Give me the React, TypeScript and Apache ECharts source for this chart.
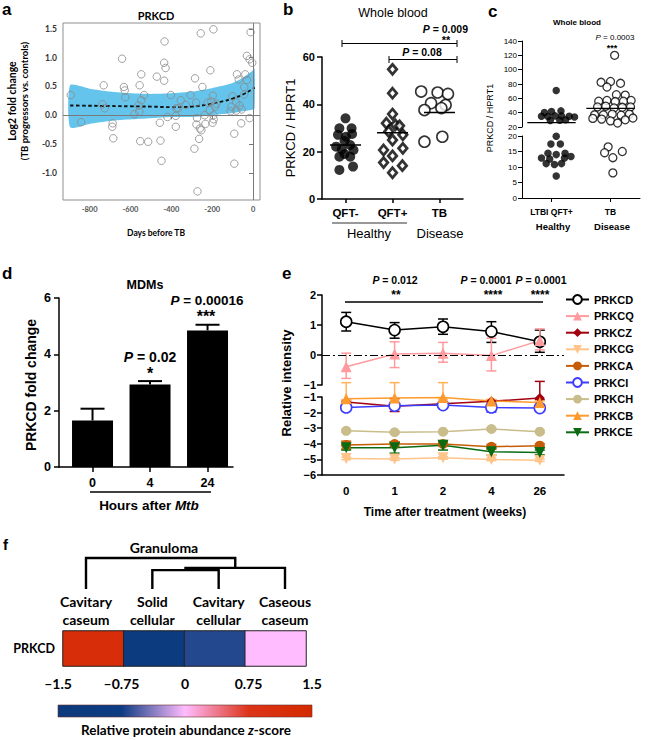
import React, { useEffect, useRef } from 'react';
import * as echarts from 'echarts';

const ARIAL = 'Liberation Sans';
const CALI = 'Lato';

// ---------------- Panel a : PRKCD log2 fold change vs days before TB ----------------
const aPoints: number[][] = [
  [-892, 0.35], [-841, -0.12], [-731, 0.52], [-737, 0.19], [-726, 0.12], [-687, -0.14], [-689, -0.2], [-684, -0.4],
  [-641, 0.98], [-632, 0.49], [-628, 0.43], [-625, 0.31], [-580, 0.02], [-557, 0.06], [-555, 0.52], [-547, 0.71],
  [-547, 0.26], [-560, 0.17], [-533, 0.35], [-552, -0.45], [-513, -0.46], [-471, 0.67], [-433, 1.28], [-435, 0.91],
  [-428, 0.82], [-435, 0.6], [-456, -0.13], [-453, -0.44], [-448, -0.79], [-419, -0.03], [-402, 0.35], [-375, 0.12],
  [-378, -0.01], [-378, -0.2], [-367, 0.12], [-354, 0.26], [-329, 0.18], [-306, 0.35], [-284, 0.64], [-279, 0.22],
  [-248, 0.49], [-256, 1.42], [-194, 1.49], [-209, 0.78], [-197, 0.34], [-274, -0.05], [-277, -0.16], [-264, -0.41],
  [-287, -0.58], [-272, -1.32], [-260, -0.23], [-253, -0.26], [-237, 0.0], [-233, -0.15], [-222, 0.22], [-212, 0.09],
  [-204, 0.24], [-194, 0.0], [-193, -0.07], [-198, -0.13], [-186, 0.15], [-180, 0.2],
  [-12, 1.44], [-30, 1.03], [-17, 0.97], [-4, 0.91], [-79, 0.71], [-38, 0.71], [-30, 0.61], [-70, 0.62], [-43, 0.49],
  [-101, 0.33], [-43, 0.36], [-82, 0.22], [-66, 0.17], [-106, 0.15], [-110, 0.07], [-82, 0.08], [-56, 0.1],
  [-17, -0.05], [-58, -0.14], [-92, -0.32], [-92, -0.84],
];
const aBandDays = [-895, -800, -700, -600, -500, -400, -300, -200, -150, -100, -50, 0, 8];
const aBandUpper = [0.52, 0.46, 0.41, 0.38, 0.37, 0.38, 0.41, 0.47, 0.51, 0.56, 0.65, 0.78, 0.81];
const aBandLower = [-0.21, -0.15, -0.1, -0.07, -0.05, -0.03, -0.03, 0.0, 0.02, 0.04, 0.07, 0.1, 0.12];
const aFit = [0.17, 0.165, 0.16, 0.155, 0.15, 0.14, 0.15, 0.2, 0.24, 0.29, 0.36, 0.46, 0.48];
const aDayTicks = [-800, -600, -400, -200, 0];
const aFcTicks = [-1, -0.5, 0, 0.5, 1, 1.5];

// ---------------- Panel b : whole blood ----------------
const bCats = ['QFT-', 'QFT+', 'TB'];
const bQftNeg: number[][] = [
  [0.0, 34.1], [0.13, 29.9], [-0.13, 29.9], [0.14, 27.5], [-0.16, 27.1], [0.01, 26.3], [-0.02, 24.5], [-0.2, 22.1],
  [0.1, 22.8], [-0.08, 21.0], [0.17, 20.7], [-0.02, 19.0], [-0.13, 17.9], [0.1, 17.9], [-0.13, 12.3], [0.16, 13.7],
];
const bQftPos: number[][] = [
  [0.0, 54.8], [0.0, 44.7], [0.0, 35.9], [-0.13, 32.0], [0.06, 31.3], [0.15, 30.9], [-0.08, 28.5], [0.22, 27.1],
  [0.0, 24.9], [-0.19, 20.7], [0.22, 21.4], [0.0, 18.2], [-0.19, 15.4], [0.21, 14.1], [0.0, 11.1],
];
const bTB: number[][] = [
  [-0.39, 45.4], [-0.04, 45.0], [0.18, 44.4], [-0.18, 40.5], [0.13, 39.7], [-0.32, 37.6], [0.04, 38.4],
  [-0.32, 24.2], [0.06, 26.3],
];
const bMeans = [22.8, 28.0, 36.5];

// ---------------- Panel c : whole blood (broken axis) ----------------
const cCats = ['LTBI QFT+', 'TB'];
const cLtbi: number[][] = [
  [0.08, 71], [-0.12, 40.1], [0.0, 41.5], [0.16, 42.5], [-0.17, 35], [-0.06, 34.5], [0.06, 35.5], [0.17, 35.5],
  [0.3, 35], [0.39, 34], [-0.02, 29], [0.14, 29.5], [0.24, 30],
  [0.08, 19.9], [-0.01, 17.4], [0.15, 17.4], [-0.06, 14.4], [0.08, 14], [0.23, 14.4], [-0.17, 12.9], [-0.03, 12.6],
  [0.22, 12.9], [0.33, 13.4], [-0.09, 11.1], [0.05, 10.8], [0.17, 11.1], [0.08, 7.1],
];
const cTB: number[][] = [
  [0.07, 120], [-0.16, 82.4], [0.0, 83.5], [0.17, 81], [-0.06, 75.8], [0.1, 65], [0.25, 64.5],
  [-0.2, 56], [-0.06, 57], [0.08, 55.5], [0.22, 56], [0.35, 57],
  [-0.22, 48], [-0.08, 49], [0.06, 46.5], [0.2, 47.5], [0.34, 48],
  [-0.27, 37], [-0.12, 37], [0.03, 38], [0.18, 36.5], [0.32, 38],
  [-0.3, 32], [-0.15, 31], [0.0, 28.5], [0.12, 25.5], [0.25, 30], [0.38, 32.5],
  [-0.04, 16.5], [-0.1, 14.6], [0.2, 15], [0.04, 13], [0.04, 8.1],
];
const cMeans = [26, 46];

// ---------------- Panel d : MDMs ----------------
const dCats = ['0', '4', '24'];
const dMeans = [1.65, 2.93, 4.85];
const dErr = [0.42, 0.12, 0.2];

// ---------------- Panel e : relative intensity ----------------
const eWeeks = ['0', '1', '2', '4', '26'];
const eNames = ['PRKCD', 'PRKCQ', 'PRKCZ', 'PRKCG', 'PRKCA', 'PRKCI', 'PRKCH', 'PRKCB', 'PRKCE'];
const eValues: Record<string, number[]> = {
  PRKCD: [1.11, 0.83, 0.94, 0.78, 0.44],
  PRKCQ: [-0.39, 0.03, 0.06, -0.02, 0.48],
  PRKCZ: [-1.32, -1.6, -1.43, -1.28, -1.07],
  PRKCG: [-4.94, -4.98, -4.9, -5.0, -5.05],
  PRKCA: [-4.08, -4.02, -4.01, -4.19, -4.12],
  PRKCI: [-1.67, -1.56, -1.52, -1.67, -1.71],
  PRKCH: [-3.17, -3.26, -3.22, -3.05, -3.22],
  PRKCB: [-1.11, -1.07, -1.03, -1.25, -1.36],
  PRKCE: [-4.25, -4.25, -4.1, -4.51, -4.55],
};
const eErrUp: Record<string, number[]> = {
  PRKCD: [0.31, 0.25, 0.26, 0.33, 0.39],
  PRKCQ: [0.45, 0.41, 0.36, 0.58, 0.39],
  PRKCZ: [0.1, 0.5, 0.12, 0.1, 1.07],
  PRKCG: [0.08, 0.08, 0.08, 0.08, 0.08],
  PRKCA: [0.25, 0.15, 0.12, 0.15, 0.12],
  PRKCI: [0.1, 0.1, 0.12, 0.1, 0.1],
  PRKCH: [0.08, 0.08, 0.08, 0.08, 0.08],
  PRKCB: [1.03, 0.99, 0.95, 0.1, 0.1],
  PRKCE: [0.15, 0.35, 0.3, 0.2, 0.15],
};
const eErrDown: Record<string, number[]> = {
  PRKCD: [0.31, 0.27, 0.25, 0.36, 0.35],
  PRKCQ: [0.39, 0.45, 0.3, 0.51, 0.31],
  PRKCZ: [0.1, 0.33, 0.12, 0.1, 0.1],
  PRKCG: [0.08, 0.08, 0.08, 0.08, 0.08],
  PRKCA: [0.25, 0.15, 0.12, 0.15, 0.12],
  PRKCI: [0.1, 0.1, 0.15, 0.3, 0.1],
  PRKCH: [0.08, 0.08, 0.08, 0.08, 0.08],
  PRKCB: [0.1, 0.1, 0.1, 0.1, 0.1],
  PRKCE: [0.15, 0.35, 0.3, 0.2, 0.15],
};
const eUpperGroup = ['PRKCD', 'PRKCQ'];

// ---------------- Panel f : granuloma heatmap ----------------
const fSamples = ['Cavitary\ncaseum', 'Solid\ncellular', 'Cavitary\ncellular', 'Caseous\ncaseum'];
const fRow = ['PRKCD'];
const fZ = [1.25, -1.0, -0.68, 0.0];
// dendrogram merges: [xLeft, hLeft, xRight, hRight, hJoin]
const fMerges: number[][] = [
  [1, 0, 2, 0, 0.61],
  [1.5, 0.61, 3, 0, 0.68],
  [0, 0, 2.25, 0.68, 1.0],
];
const fScaleTicks = [-1.5, -0.75, 0, 0.75, 1.5];
const fColors = ['#0b3a7c', '#0c3c82', '#ffbcff', '#dc3418', '#d42a00'];

// ---------------- helpers ----------------
function txt(x: number, y: number, text: string, size: number, o: any = {}) {
  const base: any = {
    fontSize: size,
    fontWeight: o.weight ?? 'bold',
    fontFamily: o.family ?? ARIAL,
    fill: o.color ?? '#000',
  };
  return {
    type: 'text',
    x,
    y,
    rotation: o.rot ?? 0,
    silent: true,
    z: 100,
    style: {
      ...base,
      text,
      align: o.align ?? 'center',
      verticalAlign: 'middle',
      rich: { i: { ...base, fontStyle: 'italic' } },
    },
  };
}
function seg(x1: number, y1: number, x2: number, y2: number, w = 1.5, color = '#000') {
  return { type: 'line', silent: true, z: 100, shape: { x1, y1, x2, y2 }, style: { stroke: color, lineWidth: w } };
}
const minus = (s: string) => s.replace('-', '\u2212');

function buildOption() {
  const grids: any[] = [];
  const xAxes: any[] = [];
  const yAxes: any[] = [];
  const series: any[] = [];
  const noSplit = { show: false };
  const blackLine = (w = 1.5) => ({ show: true, onZero: false, lineStyle: { color: '#000', width: w } });

  // ===== grid 0 : panel a =====
  grids.push({ left: 63, top: 23, width: 197, height: 177, show: true, borderColor: '#8f8f8f', borderWidth: 1 });
  xAxes.push({
    gridIndex: 0, type: 'value', min: -930, max: 34,
    axisLine: { show: false }, splitLine: noSplit,
    axisTick: { show: true, customValues: aDayTicks, length: 4, lineStyle: { color: '#777' } },
    axisLabel: { customValues: aDayTicks, fontSize: 7.5, fontWeight: 'bold', color: '#555', margin: 5, fontFamily: CALI },
  });
  yAxes.push({
    gridIndex: 0, type: 'value', min: -1.47, max: 1.6,
    axisLine: { show: false }, splitLine: noSplit,
    axisTick: { show: true, customValues: aFcTicks, length: 4, lineStyle: { color: '#777' } },
    axisLabel: {
      customValues: aFcTicks, fontSize: 8.5, fontWeight: 'bold', color: '#333', margin: 6, fontFamily: CALI,
      formatter: (v: number) => v.toFixed(1),
    },
  });
  series.push({
    type: 'custom', xAxisIndex: 0, yAxisIndex: 0, silent: true, z: 1,
    data: [[aBandDays[0], aBandLower[0]]],
    renderItem: (_p: any, api: any) => {
      const pts = aBandDays.map((d, i) => api.coord([d, aBandUpper[i]]));
      for (let i = aBandDays.length - 1; i >= 0; i--) pts.push(api.coord([aBandDays[i], aBandLower[i]]));
      return { type: 'polygon', shape: { points: pts, smooth: 0.2 }, style: { fill: '#64c4ec', stroke: null } };
    },
  });
  series.push({
    type: 'line', xAxisIndex: 0, yAxisIndex: 0, z: 3, smooth: 0.4, symbol: 'none', silent: true,
    data: aBandDays.map((d, i) => [d, aFit[i]]),
    lineStyle: { color: '#111', width: 1.9, type: [3.5, 2.5] },
    markLine: {
      silent: true, symbol: 'none', label: { show: false },
      lineStyle: { color: '#7a7a7a', width: 1, type: 'solid' },
      data: [{ yAxis: 0 }, { xAxis: 0 }],
    },
  });
  series.push({
    type: 'scatter', xAxisIndex: 0, yAxisIndex: 0, z: 4, symbol: 'circle', symbolSize: 7.5, silent: true,
    data: aPoints,
    itemStyle: { color: 'rgba(0,0,0,0)', borderColor: '#8a8a8a', borderWidth: 1 },
  });

  // ===== grid 1 : panel b =====
  grids.push({ left: 322, top: 57, width: 141, height: 142 });
  xAxes.push({
    gridIndex: 1, type: 'value', min: -0.5, max: 2.5, axisLine: blackLine(1.5), splitLine: noSplit,
    axisTick: { show: true, customValues: [0, 1, 2], length: 4, lineStyle: { color: '#000', width: 1.5 } },
    axisLabel: {
      customValues: [0, 1, 2], formatter: (v: number) => bCats[Math.round(v)],
      fontSize: 11.5, fontWeight: 'bold', color: '#000', margin: 8, fontFamily: ARIAL,
    },
  });
  yAxes.push({
    gridIndex: 1, type: 'value', min: 0, max: 60, interval: 20, axisLine: blackLine(1.5), splitLine: noSplit,
    axisTick: { show: true, length: 5, lineStyle: { color: '#000', width: 1.5 } },
    axisLabel: { fontSize: 11, fontWeight: 'bold', color: '#000', margin: 7, fontFamily: ARIAL },
  });
  series.push({
    type: 'scatter', xAxisIndex: 1, yAxisIndex: 1, z: 4, symbol: 'circle', symbolSize: 10, silent: true,
    data: bQftNeg.map(([dx, v]) => [0 + dx, v]), itemStyle: { color: '#000' },
  });
  series.push({
    type: 'scatter', xAxisIndex: 1, yAxisIndex: 1, z: 4, symbol: 'diamond', symbolSize: [8.5, 10], silent: true,
    data: bQftPos.map(([dx, v]) => [1 + dx, v]), itemStyle: { color: '#fff', borderColor: '#000', borderWidth: 2.8 },
  });
  series.push({
    type: 'scatter', xAxisIndex: 1, yAxisIndex: 1, z: 4, symbol: 'circle', symbolSize: 11, silent: true,
    data: bTB.map(([dx, v]) => [2 + dx, v]), itemStyle: { color: '#fff', borderColor: '#000', borderWidth: 1.6 },
  });
  series.push({
    type: 'custom', xAxisIndex: 1, yAxisIndex: 1, z: 5, silent: true,
    data: bMeans.map((m, i) => [i, m]),
    renderItem: (_p: any, api: any) => {
      const a = api.coord([api.value(0) - 0.33, api.value(1)]);
      const b = api.coord([api.value(0) + 0.33, api.value(1)]);
      return { type: 'line', shape: { x1: a[0], y1: a[1], x2: b[0], y2: b[1] }, style: { stroke: '#000', lineWidth: 1.5 } };
    },
  });

  // ===== grid 2/3 : panel c =====
  grids.push({ left: 522, top: 41, width: 118, height: 86 });
  grids.push({ left: 522, top: 136, width: 118, height: 62 });
  xAxes.push({ gridIndex: 2, type: 'value', min: -0.5, max: 1.5, show: false });
  xAxes.push({
    gridIndex: 3, type: 'value', min: -0.5, max: 1.5, axisLine: blackLine(1), splitLine: noSplit,
    axisTick: { show: true, customValues: [0, 1], length: 4, lineStyle: { color: '#000' } },
    axisLabel: {
      customValues: [0, 1], formatter: (v: number) => cCats[Math.round(v)],
      fontSize: 8.5, fontWeight: 'bold', color: '#000', margin: 9, fontFamily: ARIAL,
    },
  });
  const cY = (gi: number, min: number, max: number, interval: number) => ({
    gridIndex: gi, type: 'value', min, max, interval, axisLine: blackLine(1), splitLine: noSplit,
    axisTick: { show: true, length: 4, lineStyle: { color: '#000' } },
    axisLabel: { fontSize: 8, color: '#000', margin: 5, fontFamily: ARIAL },
  });
  yAxes.push(cY(2, 20, 140, 20));
  yAxes.push(cY(3, 0, 20, 5));
  const cGroups = [
    { pts: cLtbi, center: 0, style: { color: '#000' }, size: 7.5 },
    { pts: cTB, center: 1, style: { color: '#fff', borderColor: '#000', borderWidth: 1.3 }, size: 8 },
  ];
  cGroups.forEach((g) => {
    const upper = g.pts.filter((p) => p[1] >= 20).map(([dx, v]) => [g.center + dx, v]);
    const lower = g.pts.filter((p) => p[1] < 20).map(([dx, v]) => [g.center + dx, v]);
    series.push({
      type: 'scatter', xAxisIndex: 2, yAxisIndex: 2, z: 4, symbol: 'circle', symbolSize: g.size, silent: true,
      data: upper, itemStyle: g.style,
    });
    series.push({
      type: 'scatter', xAxisIndex: 3, yAxisIndex: 3, z: 4, symbol: 'circle', symbolSize: g.size, silent: true,
      data: lower, itemStyle: g.style,
    });
  });
  series.push({
    type: 'custom', xAxisIndex: 2, yAxisIndex: 2, z: 5, silent: true,
    data: cMeans.map((m, i) => [i, m]),
    renderItem: (_p: any, api: any) => {
      const a = api.coord([api.value(0) - 0.41, api.value(1)]);
      const b = api.coord([api.value(0) + 0.41, api.value(1)]);
      return { type: 'line', shape: { x1: a[0], y1: a[1], x2: b[0], y2: b[1] }, style: { stroke: '#000', lineWidth: 1.2 } };
    },
  });

  // ===== grid 4 : panel d =====
  grids.push({ left: 59, top: 298, width: 174, height: 169 });
  xAxes.push({
    gridIndex: 4, type: 'value', min: -0.583, max: 2.443, axisLine: blackLine(1.5), splitLine: noSplit,
    axisTick: { show: true, customValues: [0, 1, 2], length: 5, lineStyle: { color: '#000', width: 1.5 } },
    axisLabel: {
      customValues: [0, 1, 2], formatter: (v: number) => dCats[Math.round(v)],
      fontSize: 12.5, fontWeight: 'bold', color: '#000', margin: 9, fontFamily: ARIAL,
    },
  });
  yAxes.push({
    gridIndex: 4, type: 'value', min: 0, max: 6, interval: 2, axisLine: blackLine(1.5), splitLine: noSplit,
    axisTick: { show: true, length: 5, lineStyle: { color: '#000', width: 1.5 } },
    axisLabel: { fontSize: 12.5, fontWeight: 'bold', color: '#000', margin: 8, fontFamily: ARIAL },
  });
  series.push({
    type: 'custom', xAxisIndex: 4, yAxisIndex: 4, z: 2, silent: true,
    data: dMeans.map((m, i) => [i, m, dErr[i]]),
    renderItem: (_p: any, api: any) => {
      const x = api.value(0), m = api.value(1), e = api.value(2);
      const a = api.coord([x, m]);
      const b = api.coord([x, m + e]);
      return {
        type: 'group',
        children: [
          { type: 'line', shape: { x1: a[0], y1: a[1], x2: b[0], y2: b[1] }, style: { stroke: '#000', lineWidth: 2 } },
          { type: 'line', shape: { x1: b[0] - 12, y1: b[1], x2: b[0] + 12, y2: b[1] }, style: { stroke: '#000', lineWidth: 2 } },
        ],
      };
    },
  });
  series.push({
    type: 'bar', xAxisIndex: 4, yAxisIndex: 4, z: 3, barWidth: 41, silent: true,
    data: dMeans.map((m, i) => [i, m]), itemStyle: { color: '#000' },
  });

  // ===== grid 5/6 : panel e =====
  grids.push({ left: 322, top: 295, width: 242, height: 90 });
  grids.push({ left: 322, top: 397, width: 242, height: 78 });
  xAxes.push({ gridIndex: 5, type: 'category', data: eWeeks, show: false });
  xAxes.push({
    gridIndex: 6, type: 'category', data: eWeeks, axisLine: blackLine(1.5), axisTick: { show: false },
    axisLabel: { fontSize: 11.5, fontWeight: 'bold', color: '#000', margin: 10, fontFamily: ARIAL }, splitLine: noSplit,
  });
  const eY = (gi: number, min: number, max: number) => ({
    gridIndex: gi, type: 'value', min, max, interval: 1, axisLine: blackLine(1.5), splitLine: noSplit,
    axisTick: { show: true, length: 5, lineStyle: { color: '#000', width: 1.5 } },
    axisLabel: {
      fontSize: 11, fontWeight: 'bold', color: '#000', margin: 6, fontFamily: ARIAL,
      formatter: (v: number) => minus(String(v)),
    },
  });
  yAxes.push(eY(5, -1, 2));
  yAxes.push(eY(6, -6, -1));
  const eStyle: Record<string, any> = {
    PRKCD: { color: '#000', symbol: 'circle', size: 11, open: true },
    PRKCQ: { color: '#ff9a9e', symbol: 'triangle', size: 11 },
    PRKCZ: { color: '#a3000f', symbol: 'diamond', size: 10 },
    PRKCG: { color: '#ffc48a', symbol: 'triangle', size: 11, rot: 180 },
    PRKCA: { color: '#c65c05', symbol: 'circle', size: 10 },
    PRKCI: { color: '#3d3dff', symbol: 'circle', size: 11, open: true },
    PRKCH: { color: '#c9bd8b', symbol: 'circle', size: 10 },
    PRKCB: { color: '#ff9a2e', symbol: 'triangle', size: 11, errColor: '#ffb45a' },
    PRKCE: { color: '#0a6b12', symbol: 'triangle', size: 11, rot: 180 },
  };
  eNames.forEach((name) => {
    const gi = eUpperGroup.includes(name) ? 5 : 6;
    const st = eStyle[name];
    const vals = eValues[name];
    series.push({
      type: 'custom', name: 'err-' + name, xAxisIndex: gi, yAxisIndex: gi, z: 2, silent: true, clip: false,
      data: vals.map((v, i) => [i, v - eErrDown[name][i], v + eErrUp[name][i]]),
      renderItem: (_p: any, api: any) => {
        const i = api.value(0);
        const lo = api.coord([i, api.value(1)]);
        const hi = api.coord([i, api.value(2)]);
        const s = { stroke: st.errColor ?? st.color, lineWidth: 1.5 };
        return {
          type: 'group',
          children: [
            { type: 'line', shape: { x1: lo[0], y1: lo[1], x2: hi[0], y2: hi[1] }, style: s },
            { type: 'line', shape: { x1: lo[0] - 5, y1: lo[1], x2: lo[0] + 5, y2: lo[1] }, style: s },
            { type: 'line', shape: { x1: hi[0] - 5, y1: hi[1], x2: hi[0] + 5, y2: hi[1] }, style: s },
          ],
        };
      },
    });
    const s: any = {
      type: 'line', name, xAxisIndex: gi, yAxisIndex: gi, z: 3, silent: true,
      data: vals, symbol: st.symbol, symbolSize: st.size, symbolRotate: st.rot ?? 0, showAllSymbol: true,
      lineStyle: { color: st.color, width: 1.5 },
      itemStyle: st.open
        ? { color: '#fff', borderColor: st.color, borderWidth: 1.6 }
        : { color: st.color, borderColor: st.color, borderWidth: 0 },
    };
    if (name === 'PRKCD') {
      s.markLine = {
        silent: true, symbol: 'none', label: { show: false },
        lineStyle: { color: '#000', width: 1.2, type: [8, 3, 2, 3] },
        data: [{ yAxis: 0 }],
      };
    }
    series.push(s);
  });

  // ===== grid 7 : panel f dendrogram =====
  grids.push({ left: 86, top: 558, width: 199, height: 31 });
  xAxes.push({
    gridIndex: 7, type: 'value', min: 0, max: fSamples.length - 1,
    axisLine: { show: false }, axisTick: { show: false }, splitLine: noSplit,
    axisLabel: {
      customValues: [0, 1, 2, 3], formatter: (v: number) => fSamples[Math.round(v)],
      fontSize: 14, fontWeight: 'bold', fontFamily: CALI, color: '#000', lineHeight: 18, margin: 3,
    },
  });
  yAxes.push({ gridIndex: 7, type: 'value', min: 0, max: 1, show: false });
  series.push({
    type: 'custom', xAxisIndex: 7, yAxisIndex: 7, z: 3, silent: true,
    data: fMerges,
    renderItem: (_p: any, api: any) => {
      const p1 = api.coord([api.value(0), api.value(1)]);
      const p2 = api.coord([api.value(0), api.value(4)]);
      const p3 = api.coord([api.value(2), api.value(4)]);
      const p4 = api.coord([api.value(2), api.value(3)]);
      return { type: 'polyline', shape: { points: [p1, p2, p3, p4] }, style: { stroke: '#000', lineWidth: 2.4, fill: null } };
    },
  });

  // ===== grid 8 : heatmap =====
  grids.push({ left: 63, top: 631, width: 243, height: 35 });
  xAxes.push({ gridIndex: 8, type: 'category', data: fSamples, show: false });
  yAxes.push({
    gridIndex: 8, type: 'category', data: fRow, axisLine: { show: false }, axisTick: { show: false },
    axisLabel: { fontSize: 12.5, fontWeight: 'bold', fontFamily: CALI, color: '#000', margin: 8 },
  });
  const heatIdx = series.length;
  series.push({
    type: 'heatmap', xAxisIndex: 8, yAxisIndex: 8, silent: true,
    data: fZ.map((z, i) => [i, 0, z]),
    itemStyle: { borderColor: '#222', borderWidth: 1 },
  });

  // ===== grid 9 : colour bar =====
  grids.push({ left: 58, top: 705, width: 254, height: 12 });
  xAxes.push({
    gridIndex: 9, type: 'value', min: fScaleTicks[0], max: fScaleTicks[fScaleTicks.length - 1], position: 'top',
    axisLine: { show: false }, splitLine: noSplit,
    axisTick: { show: true, customValues: [-0.75, 0, 0.75], length: 10, lineStyle: { color: '#4a3a5a', width: 1.2 } },
    axisLabel: {
      customValues: fScaleTicks, fontSize: 14, fontWeight: 'bold', fontFamily: CALI, color: '#000', margin: 15,
      formatter: (v: number) => (v < 0 ? '\u2013' : '') + String(Math.abs(v)),
    },
  });
  yAxes.push({ gridIndex: 9, type: 'value', min: 0, max: 1, show: false });
  series.push({
    type: 'custom', xAxisIndex: 9, yAxisIndex: 9, z: 2, silent: true,
    data: [[fScaleTicks[0], 0]],
    renderItem: (_p: any, api: any) => {
      const tl = api.coord([fScaleTicks[0], 1]);
      const br = api.coord([fScaleTicks[fScaleTicks.length - 1], 0]);
      const stops = fColors.map((c, i) => ({ offset: i / (fColors.length - 1), color: c }));
      return {
        type: 'rect',
        shape: { x: tl[0], y: tl[1], width: br[0] - tl[0], height: br[1] - tl[1] },
        style: { fill: new echarts.graphic.LinearGradient(0, 0, 1, 0, stops), stroke: '#6a3030', lineWidth: 0.6 },
      };
    },
  });

  // ===== annotations =====
  const g: any[] = [
    // letters
    txt(2, 9, 'a', 17, { align: 'left' }),
    txt(283, 9, 'b', 17, { align: 'left' }),
    txt(488, 11, 'c', 17, { align: 'left' }),
    txt(2, 273, 'd', 17, { align: 'left' }),
    txt(282, 273, 'e', 17, { align: 'left' }),
    txt(3, 544, 'f', 15, { align: 'left' }),
    // a
    txt(156, 15, 'PRKCD', 11, { family: CALI }),
    txt(12, 101, 'Log2 fold change', 10.5, { family: CALI, rot: Math.PI / 2 }),
    txt(24, 101, '(TB progressors vs. controls)', 9.5, { family: CALI, rot: Math.PI / 2 }),
    txt(156, 233, 'Days before TB', 8.5, { family: CALI }),
    // b
    txt(393, 13, 'Whole blood', 12.5, { weight: 'normal' }),
    txt(290, 128, 'PRKCD / HPRT1', 13, { weight: 'normal', rot: Math.PI / 2 }),
    txt(468, 29, '{i|P} = 0.009', 10.5, { align: 'right' }),
    txt(446, 40, '**', 11),
    txt(422, 52, '{i|P} = 0.08', 10.5),
    seg(342, 43.5, 457, 43.5, 1), seg(342, 40, 342, 47, 1), seg(457, 40, 457, 47, 1),
    seg(389, 59.5, 457, 59.5, 1), seg(389, 56, 389, 63, 1), seg(457, 56, 457, 63, 1),
    seg(332, 223, 407, 223, 1.2, '#333'),
    txt(369, 233, 'Healthy', 13, { weight: 'normal' }),
    txt(440, 233, 'Disease', 13, { weight: 'normal' }),
    // c
    txt(577, 22, 'Whole blood', 8),
    txt(490, 118, 'PRKCD / HPRT1', 9, { weight: 'normal', rot: Math.PI / 2 }),
    txt(615, 37, '{i|P} = 0.0003', 8, { weight: 'normal' }),
    txt(612, 48, '***', 9),
    txt(553, 226, 'Healthy', 9.5),
    txt(612, 226, 'Disease', 9.5),
    // d
    txt(145, 285, 'MDMs', 12.5),
    txt(31, 385, 'PRKCD fold change', 14, { rot: Math.PI / 2 }),
    txt(150, 357, '{i|P} = 0.02', 14),
    txt(150, 373, '*', 16),
    txt(207, 300, '{i|P} = 0.00016', 13.5),
    txt(206, 316, '***', 16),
    seg(90, 492, 211, 492, 1.5),
    txt(149, 505, 'Hours after {i|Mtb}', 13.5),
    // e
    txt(286, 383, 'Relative intensity', 13, { rot: Math.PI / 2 }),
    txt(395, 280, '{i|P} = 0.012', 10.5),
    txt(396, 295, '**', 12),
    txt(486, 280, '{i|P} = 0.0001', 10.5),
    txt(541, 280, '{i|P} = 0.0001', 10.5),
    txt(493, 295, '****', 12),
    txt(540, 295, '****', 12),
    seg(345, 302, 543, 302, 1.5),
    txt(445, 512, 'Time after treatment (weeks)', 12),
    // f
    txt(164, 547, 'Granuloma', 14, { family: CALI }),
    txt(186, 730, 'Relative protein abundance {i|z}-score', 13.5, { family: CALI }),
  ];

  return {
    animation: false,
    backgroundColor: '#fff',
    textStyle: { fontFamily: ARIAL },
    grid: grids.map((gr) => ({ containLabel: false, outerBoundsMode: 'none', ...gr })),
    xAxis: xAxes,
    yAxis: yAxes,
    visualMap: [{
      type: 'continuous', show: false, min: fScaleTicks[0], max: fScaleTicks[fScaleTicks.length - 1],
      seriesIndex: heatIdx, dimension: 2, inRange: { color: fColors },
    }],
    legend: {
      data: eNames, orient: 'vertical', left: 565, top: 293, padding: 0,
      itemWidth: 23, itemHeight: 11, itemGap: 3.6, selectedMode: false,
      textStyle: { fontSize: 11, fontWeight: 'bold', color: '#000', fontFamily: ARIAL, lineHeight: 13 },
    },
    series,
    graphic: g,
  };
}

export default function App() {
  const ref = useRef<HTMLDivElement>(null);
  useEffect(() => {
    const chart = echarts.init(ref.current as HTMLDivElement, null, { renderer: 'svg' });
    chart.setOption(buildOption() as any);
    return () => chart.dispose();
  }, []);
  return (
    <div
      ref={ref}
      style={{ position: 'absolute', left: 0, top: 0, width: 648, height: 740, background: '#fff' }}
    />
  );
}
